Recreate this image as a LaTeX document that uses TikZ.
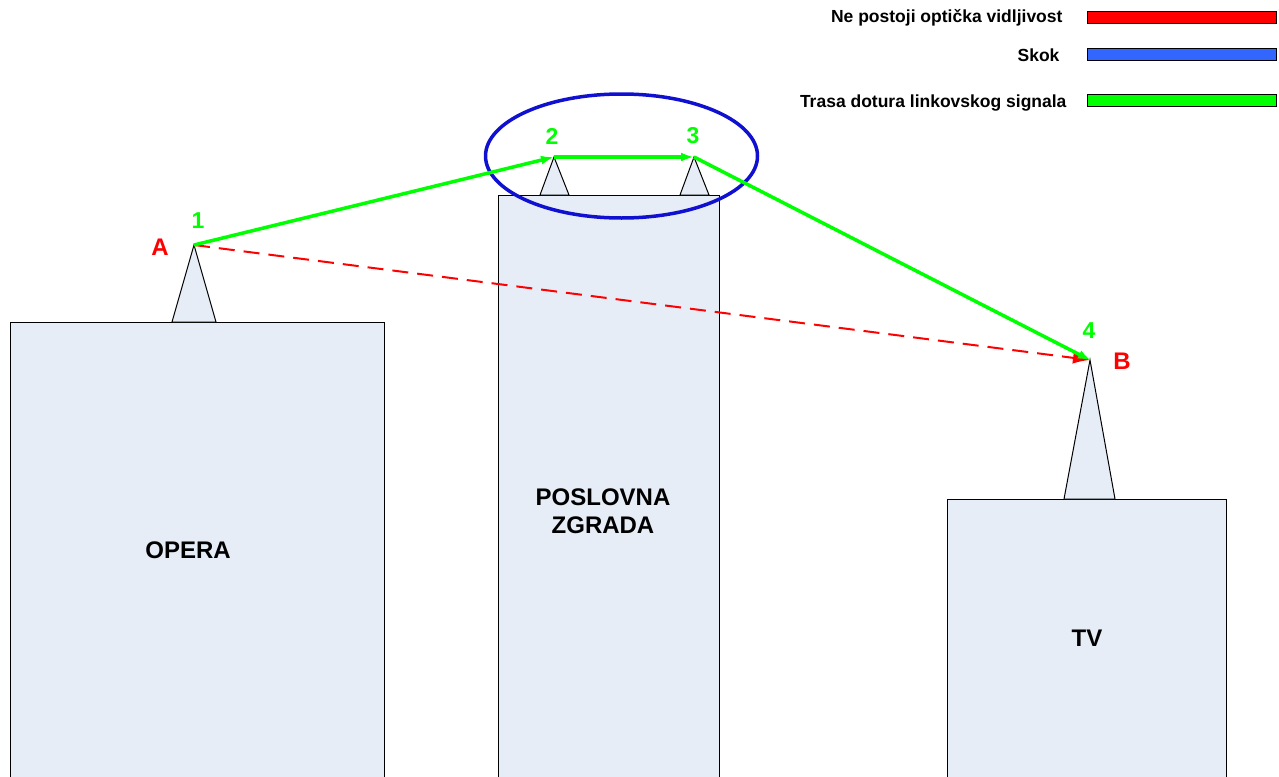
\documentclass[tikz,border=0pt]{standalone}
\usepackage{fontspec}
\setmainfont{Liberation Sans}
\usetikzlibrary{arrows.meta}
\definecolor{zgrada}{HTML}{E6EDF7}
\definecolor{zelena}{HTML}{00FF00}
\definecolor{crvena}{HTML}{FF0000}
\definecolor{skok}{HTML}{3366FF}
\definecolor{elipsa}{HTML}{1010D0}
\tikzset{
  zgradabox/.style={draw=black, fill=zgrada, line width=1pt},
  antena/.style={draw=black, fill=zgrada, line width=1pt},
  trasa/.style={zelena, line width=3.5pt, -{Latex[length=13pt,width=9pt]}},
  nevid/.style={crvena, line width=2pt, dash pattern=on 16pt off 9pt, -{Latex[length=17pt,width=12pt]}},
  tocka/.style={text=zelena, font=\bfseries\fontsize{23}{25}\selectfont},
  kraj/.style={text=crvena, font=\bfseries\fontsize{24}{26}\selectfont},
  naziv/.style={font=\bfseries\fontsize{24}{28}\selectfont, align=center},
  legenda/.style={font=\bfseries\fontsize{17.5}{20}\selectfont, anchor=east},
  traka/.style={draw=black, line width=1pt}
}
\begin{document}
\begin{tikzpicture}[x=1pt, y=-1pt]
    \useasboundingbox (0,0) rectangle (1279,776);

    % draw buildings
    \draw[zgradabox] (10,322) rectangle (384,780);
    \draw[zgradabox] (498,195) rectangle (719,780);
    \draw[zgradabox] (947,499) rectangle (1226,780);
    \node[naziv] (opera) at (188,550) {OPERA};
    \node[naziv] (poslovna) at (603,511) {POSLOVNA\\ZGRADA};
    \node[naziv] (tv) at (1087,638) {TV};

    % draw antennas
    \coordinate (t1) at (194,245);
    \coordinate (t2) at (554,157);
    \coordinate (t3) at (694,157);
    \coordinate (t4) at (1090,360);
    \draw[antena] (172,322) -- (t1) -- (216,322) -- cycle;
    \draw[antena] (540,195) -- (t2) -- (569,195) -- cycle;
    \draw[antena] (680,195) -- (t3) -- (709,195) -- cycle;
    \draw[antena] (1064,499) -- (t4) -- (1115,499) -- cycle;

    % draw jump
    \draw[elipsa, line width=3.5pt] (621.5,156) ellipse [x radius=136, y radius=62];

    % draw paths
    \draw[nevid] (t1) -- (t4);
    \draw[trasa] (t1) -- (t2);
    \draw[trasa] (t2) -- (t3);
    \draw[trasa, shorten >=-1pt] (t3) -- (t4);

    % draw notes
    \node[kraj] (a) at (160,247) {A};
    \node[kraj] (b) at (1122,361) {B};
    \node[tocka] (n1) at (198,221) {1};
    \node[tocka] (n2) at (552,136) {2};
    \node[tocka] (n3) at (693,136) {3};
    \node[tocka] (n4) at (1089,331) {4};

    % draw legend
    \node[legenda] (l1) at (1066,18) {Ne postoji optička vidljivost};
    \node[legenda] (l2) at (1063,55) {Skok};
    \node[legenda] (l3) at (1070,103) {Trasa dotura linkovskog signala};
    \draw[traka, fill=crvena] (1087,12) rectangle (1276,24);
    \draw[traka, fill=skok] (1087,49) rectangle (1276,61);
    \draw[traka, fill=zelena] (1087,94) rectangle (1276,106);
\end{tikzpicture}
\end{document}
